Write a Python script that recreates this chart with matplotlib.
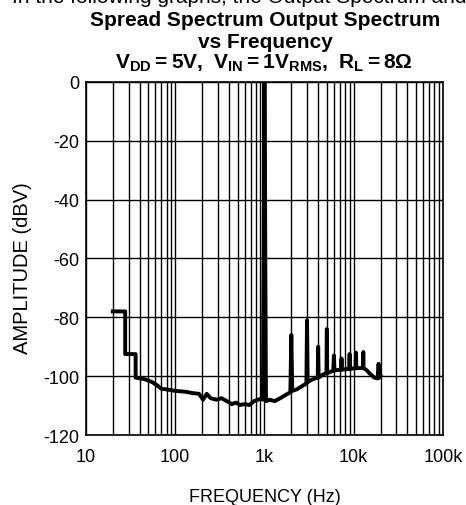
import matplotlib
matplotlib.use("Agg")
import matplotlib.pyplot as plt
from matplotlib.ticker import FixedLocator, LogLocator, NullFormatter

plt.rcParams['font.family'] = ['Liberation Sans', 'DejaVu Sans']
plt.rcParams['mathtext.fontset'] = 'custom'
plt.rcParams['mathtext.rm'] = 'Liberation Sans'
plt.rcParams['mathtext.bf'] = 'Liberation Sans:bold'
plt.rcParams['axes.unicode_minus'] = False

# spectrum trace (Hz, dBV)
freq = [20, 27.5, 27.5, 36, 36, 45, 55, 62, 70, 80, 100, 130, 160, 185,
        205, 225, 250, 290, 330, 380, 430, 480, 530, 600, 680, 760, 850,
        930, 960, 980, 990, 1000, 1010, 1020, 1040, 1150, 1300, 1500, 1700,
        1950, 2000, 2050, 2300, 2600, 2950, 3000, 3050, 3500, 3950, 4000,
        4050, 4500, 4950, 5000, 5050, 5500, 5900, 6000, 6100, 7200, 7300,
        7400, 8900, 9000, 9100, 10500, 10600, 10700, 12700, 12800, 12900,
        14000, 15000, 17000, 18500, 19000, 19500, 20000]
ampl = [-78, -78, -92.5, -92.5, -100.5, -101, -102, -103, -104.3, -104.5,
        -105, -105.3, -105.8, -106, -108, -106, -107.5, -108, -107.5,
        -108.5, -109.5, -109, -109.8, -109.5, -109.8, -108.5, -108, -107.5,
        -108, -55, -3, 0, -3, -55, -108.5, -108, -108.5, -107.5, -106.5,
        -105.5, -86, -105, -104.5, -103.5, -102.5, -81, -102, -101, -100.5,
        -90, -100.5, -99.5, -99, -84, -99, -98.5, -98.2, -93, -98, -97.8,
        -94, -97.8, -97.5, -92.5, -97.5, -97.3, -92, -97.3, -97.2, -91.8,
        -97.3, -98, -99, -100.5, -100.8, -95.8, -100.5, -100]

x_ticks = [10, 100, 1000, 10000, 100000]
x_labels = ['10', '100', '1k', '10k', '100k']
y_ticks = [0, -20, -40, -60, -80, -100, -120]

fig = plt.figure(figsize=(4.66, 5.06), dpi=100)
ax = fig.add_axes([0.1845, 0.1383, 0.766, 0.698])

ax.semilogx(freq, ampl, color='black', lw=2.8, solid_joinstyle='round', zorder=3)

ax.set_xlim(10, 100000)
ax.set_ylim(-120, 0)
ax.xaxis.set_major_locator(FixedLocator(x_ticks))
ax.set_xticklabels(x_labels)
ax.xaxis.set_minor_locator(LogLocator(base=10, subs=range(2, 10), numticks=20))
ax.xaxis.set_minor_formatter(NullFormatter())
ax.set_yticks(y_ticks)
ax.tick_params(which='both', length=0, labelsize=13)
ax.tick_params(axis='x', pad=9)
ax.tick_params(axis='y', pad=4.5)
ax.grid(True, which='both', axis='x', color='black', lw=1.0)
ax.grid(True, which='major', axis='y', color='black', lw=1.0)
for s in ax.spines.values():
    s.set_linewidth(1.2)

ax.set_xlabel('FREQUENCY (Hz)', fontsize=13, labelpad=17)
ax.set_ylabel('AMPLITUDE (dBV)', fontsize=14.5, labelpad=8)
ax.yaxis.label.set_y(0.476)

# title block
fig.text(0.569, 1 - 21 / 506, 'Spread Spectrum Output Spectrum',
         ha='center', va='center', fontsize=15, fontweight='bold')
fig.text(0.569, 1 - 42 / 506, 'vs Frequency',
         ha='center', va='center', fontsize=15, fontweight='bold')
fig.text(0.567, 1 - 63 / 506,
         r'$\mathbf{V_{DD}=5V,\ V_{IN}=1V_{RMS},\ R_L=8\Omega}$',
         ha='center', va='center', fontsize=15)
# clipped line of body text from the page above the chart
fig.text(0.55, 1 - 3 / 506, 'In the following graphs, the Output Spectrum and the',
         ha='center', va='baseline', fontsize=15)

fig.savefig('out.png', dpi=100)
